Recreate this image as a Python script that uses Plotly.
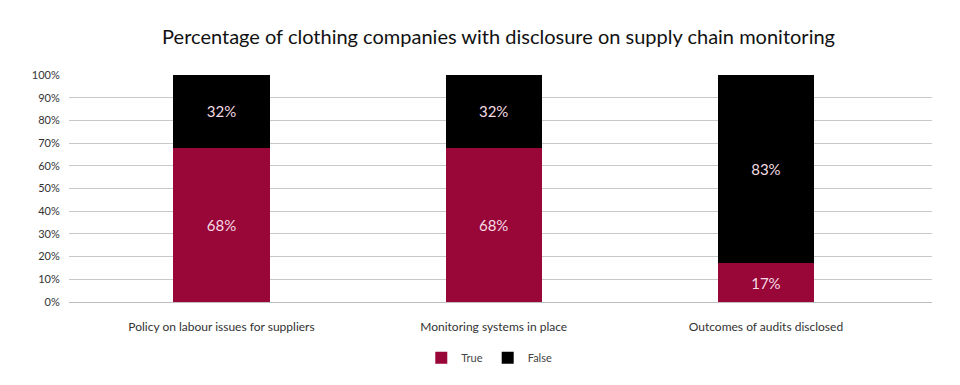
import plotly.graph_objects as go

categories = ["Policy on labour issues for suppliers", "Monitoring systems in place", "Outcomes of audits disclosed"]
true_vals = [68, 68, 17]
false_vals = [32, 32, 83]
y_ticks = [0, 10, 20, 30, 40, 50, 60, 70, 80, 90, 100]
y_tick_labels = [f"{v}%" for v in y_ticks]

RED = "#990638"
BLACK = "#000000"
FONT = "Lato, 'Noto Sans', sans-serif"

fig = go.Figure()
fig.add_trace(go.Bar(
    name="True", x=categories, y=true_vals, marker=dict(color=RED, line=dict(width=0)),
    width=0.353, texttemplate="%{y}%", textposition="inside", insidetextanchor="middle",
    textfont=dict(color="#f3dce4", size=15, family=FONT), hoverinfo="skip",
))
fig.add_trace(go.Bar(
    name="False", x=categories, y=false_vals, marker=dict(color=BLACK, line=dict(width=0)),
    width=0.353, texttemplate="%{y}%", textposition="inside", insidetextanchor="middle",
    textfont=dict(color="#f3dce4", size=15, family=FONT), hoverinfo="skip",
))

fig.update_layout(
    barmode="stack",
    width=960, height=385,
    margin=dict(l=61, r=36, t=67, b=91),
    paper_bgcolor="white", plot_bgcolor="white",
    font=dict(family=FONT, color="#333333"),
    title=dict(text="Percentage of clothing companies with disclosure on supply chain monitoring",
               x=0.511, xanchor="center", y=0.925, yanchor="middle",
               font=dict(size=20, color="#111111", family=FONT)),
    showlegend=True,
    legend=dict(orientation="h", x=0.487, xanchor="center", y=-0.246, yanchor="middle",
                font=dict(size=11, color="#444444"), itemwidth=30, traceorder="normal",
                tracegroupgap=0),
    xaxis=dict(type="category", range=[-0.56, 2.61], showgrid=False, zeroline=False,
               showline=False, ticks="outside", ticklen=14, tickcolor="rgba(0,0,0,0)",
               tickfont=dict(size=12, color="#333333")),
    yaxis=dict(range=[0, 100], tickvals=y_ticks, ticktext=y_tick_labels, showgrid=True,
               gridcolor="#c9c9c9", gridwidth=1, zeroline=True, zerolinecolor="#bdbdbd",
               zerolinewidth=1, showline=False, ticks="outside", ticklen=6,
               tickcolor="rgba(0,0,0,0)", tickfont=dict(size=11, color="#333333")),
)

fig.write_html("out.html")
